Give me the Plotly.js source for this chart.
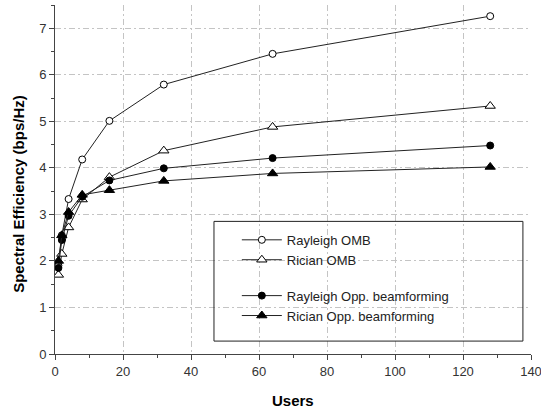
<!DOCTYPE html>
<html>
<head>
<meta charset="utf-8">
<script src="https://cdn.plot.ly/plotly-3.0.1.min.js"></script>
<style>html,body{margin:0;padding:0;background:#fff;}#chart{width:541px;height:412px;}</style>
</head>
<body>
<div id="chart"></div>
<script>
const users = [1, 2, 4, 8, 16, 32, 64, 128];
const rayleighOMB = [1.9, 2.55, 3.33, 4.18, 5.01, 5.79, 6.45, 7.26];
const ricianOMB = [1.7, 2.15, 2.72, 3.32, 3.80, 4.37, 4.88, 5.33];
const rayleighOpp = [1.85, 2.45, 2.97, 3.38, 3.73, 3.99, 4.21, 4.48];
const ricianOpp = [2.0, 2.55, 3.05, 3.42, 3.52, 3.72, 3.88, 4.02];
const seriesNames = ['Rayleigh OMB', 'Rician OMB', 'Rayleigh Opp. beamforming', 'Rician Opp. beamforming'];
const xTitle = 'Users';
const yTitle = 'Spectral Efficiency (bps/Hz)';

const FONT = 'Arial, "Liberation Sans", sans-serif';
function tr(y, name, sym, size, filled, group) {
  return {
    x: users, y: y, name: name, type: 'scatter', mode: 'lines+markers',
    legendgroup: group,
    line: {color: '#222', width: 1},
    marker: {symbol: sym, size: size, color: filled ? '#000' : '#fff',
             line: {color: '#000', width: 1}}
  };
}
const data = [
  tr(rayleighOMB, seriesNames[0], 'circle', 7, false, 'a'),
  tr(ricianOMB, seriesNames[1], 'triangle-up', 9, false, 'a'),
  tr(rayleighOpp, seriesNames[2], 'circle', 7, true, 'b'),
  tr(ricianOpp, seriesNames[3], 'triangle-up', 9, true, 'b')
];
const grid = {gridcolor: '#c4c4c4', griddash: '6px,3px,2px,3px', gridwidth: 1};
const layout = {
  width: 541, height: 412,
  margin: {l: 55, r: 10, t: 5, b: 58},
  paper_bgcolor: '#fff', plot_bgcolor: '#fff',
  font: {family: FONT, color: '#333', size: 12},
  showlegend: true,
  legend: {x: 0.382, y: 0.37, xanchor: 'left', yanchor: 'top',
           bgcolor: 'rgba(0,0,0,0)', borderwidth: 0,
           traceorder: 'grouped', tracegroupgap: 16,
           font: {family: FONT, size: 13, color: '#222'}, itemwidth: 40},
  shapes: [{type: 'rect', xref: 'paper', yref: 'paper',
            x0: 0.334, x1: 0.983, y0: 0.037, y1: 0.38,
            line: {color: '#222', width: 1}, fillcolor: 'rgba(0,0,0,0)'}],
  annotations: [
    {text: '<b>' + yTitle + '</b>', xref: 'paper', yref: 'paper', x: -0.077, y: 0.46,
     xanchor: 'center', yanchor: 'middle', textangle: -90, showarrow: false,
     font: {family: FONT, size: 15, color: '#000'}},
    {text: '<b>' + xTitle + '</b>', xref: 'paper', yref: 'paper', x: 0.5, y: -0.133,
     xanchor: 'center', yanchor: 'middle', showarrow: false,
     font: {family: FONT, size: 15, color: '#000'}}
  ],
  xaxis: Object.assign({
    range: [0, 140], dtick: 20, tick0: 0, showgrid: true, zeroline: false,
    showline: true, linecolor: '#444', linewidth: 1,
    ticks: 'outside', ticklen: 5, tickcolor: '#444', ticklabeloverflow: 'allow',
    minor: {dtick: 10, ticks: 'outside', ticklen: 3, tickcolor: '#444', showgrid: false},
    tickfont: {family: FONT, size: 13, color: '#333'}
  }, grid),
  yaxis: Object.assign({
    range: [0, 7.5], dtick: 1, tick0: 0, showgrid: true, zeroline: false,
    showline: true, linecolor: '#444', linewidth: 1,
    ticks: 'outside', ticklen: 5, tickcolor: '#444',
    minor: {dtick: 0.5, ticks: 'outside', ticklen: 3, tickcolor: '#444', showgrid: false},
    tickfont: {family: FONT, size: 13, color: '#333'}
  }, grid)
};
Plotly.newPlot('chart', data, layout, {displayModeBar: false, staticPlot: true});
</script>
</body>
</html>
